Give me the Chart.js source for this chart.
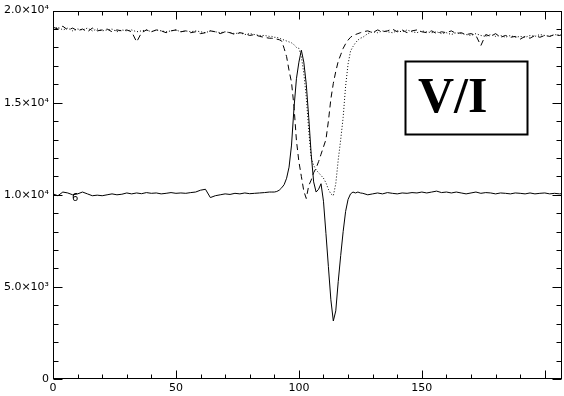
<!DOCTYPE html>
<html>
<head>
<meta charset="utf-8">
<script src="https://cdn.jsdelivr.net/npm/chart.js@4.4.1/dist/chart.umd.min.js"></script>
<style>
  body { margin: 0; background: #fff; }
  #wrap { width: 564px; height: 396px; }
</style>
</head>
<body>
<div id="wrap"><canvas id="myChart" width="564" height="396"></canvas></div>
<script>
'use strict';

// global variables
let xValues = [
  0, 2, 4, 6, 8, 10, 12, 14, 16, 18, 20, 22, 24, 26, 28, 30, 32, 34, 36, 38, 40, 42, 44,
  46, 48, 50, 52, 54, 56, 58, 60, 62, 64, 66, 68, 70, 72, 74, 76, 78, 80, 82, 84, 86, 88,
  89, 90, 91, 92, 93, 94, 95, 96, 97, 98, 99, 100, 101, 102, 103, 104, 105, 106, 107,
  108, 109, 110, 111, 112, 113, 114, 115, 116, 117, 118, 119, 120, 121, 122, 123, 124,
  125, 126,
  128, 130, 132, 134, 136, 138, 140, 142, 144, 146, 148, 150, 152, 154, 156, 158, 160,
  162, 164, 166, 168, 170, 172, 174, 176, 178, 180, 182, 184, 186, 188, 190, 192, 194,
  196, 198, 200, 202, 204, 206, 207
];

// V/I (solid)
let solidValues = [
  10050, 9950, 10150, 10100, 10000, 10050, 10150, 10050, 9950, 9980, 9950, 10000, 10050,
  10000, 10030, 10100, 10050, 10100, 10060, 10120, 10080, 10100, 10050, 10080, 10120,
  10080, 10100, 10080, 10120, 10150, 10250, 10300, 9850, 9950, 10000, 10050, 10020,
  10080, 10050, 10100, 10060, 10080, 10100, 10120, 10150,
  10150, 10150, 10180, 10250, 10380, 10550, 10900, 11500, 12700, 14700, 16300, 17200,
  17850, 17200, 16000, 14200, 12200, 10700, 10150, 10300, 10600, 9650, 7900, 6100, 4300,
  3150, 3700, 5300, 6700, 8000, 9100, 9750, 10050, 10150, 10100, 10150, 10100, 10080,
  10000, 10050, 10100, 10050, 10120, 10080, 10050, 10100, 10080, 10120, 10100, 10150,
  10100, 10150, 10200, 10120, 10150, 10100, 10150, 10100, 10050, 10100, 10150, 10080,
  10120, 10100, 10050, 10100, 10080, 10050, 10100, 10080, 10050, 10100, 10050, 10080,
  10100, 10050, 10080, 10050, 10060
];

// first intensity profile (dashed)
let dashedValues = [
  19100, 19000, 19150, 18950, 19050, 18900, 19000, 18850, 19050, 18900, 18950, 19000,
  18850, 18950, 18900, 18950, 18850, 18300, 18800, 18950, 18850, 18950, 18900, 18800,
  18900, 18950, 18850, 18900, 18800, 18850, 18750, 18800, 18900, 18850, 18750, 18850,
  18800, 18700, 18800, 18750, 18650, 18700, 18600, 18550, 18500,
  18500, 18480, 18450, 18420, 18350, 17950, 17500, 16750, 16100, 14800, 12950, 11800,
  11000, 10200, 9800, 10500, 10800, 11200, 11450, 11800, 12200, 12600, 13000, 14000,
  15200, 16050, 16700, 17250, 17600, 17950, 18200, 18400, 18550, 18650, 18700, 18750,
  18800, 18850,
  18900, 18800, 18950, 18850, 18900, 19000, 18850, 18950, 18800, 18900, 18950, 18850,
  18800, 18900, 18750, 18850, 18800, 18900, 18750, 18800, 18700, 18750, 18650, 18100,
  18700, 18600, 18750, 18550, 18650, 18550, 18600, 18450, 18600, 18500, 18650, 18550,
  18650, 18600, 18700, 18650, 18700
];

// second intensity profile (dotted)
let dottedValues = [
  19000, 19100, 18950, 19050, 18900, 19000, 18950, 19050, 18900, 19000, 18900, 18950,
  19000, 18850, 18950, 18900, 18950, 18850, 18900, 18950, 18850, 18950, 18900, 18850,
  18900, 18950, 18850, 18900, 18850, 18900, 18850, 18800, 18900, 18850, 18800, 18850,
  18800, 18750, 18800, 18700, 18750, 18700, 18650, 18650, 18600,
  18600, 18550, 18550, 18500, 18450, 18400, 18350, 18300, 18250, 18150, 18000, 17950,
  17500, 16600, 15300, 13500, 12000, 11600, 11350, 11200, 11050, 10900, 10650, 10300,
  10050, 9950, 10600, 11900, 13000, 14200, 15900, 17100, 17800, 18050, 18250, 18400,
  18500, 18550,
  18750, 18850, 18800, 18900, 18850, 18800, 18900, 18850, 18950, 18850, 18800, 18900,
  18850, 18800, 18850, 18750, 18800, 18700, 18800, 18750, 18700, 18650, 18750, 18650,
  18600, 18700, 18600, 18650, 18550, 18650, 18550, 18600, 18550, 18650, 18600, 18700,
  18650, 18600, 18700, 18650, 18650
];

// axis ticks
let xTickValues = [0, 50, 100, 150];
let xTickLabels = ['0', '50', '100', '150'];
let yTickValues = [0, 5000, 10000, 15000, 20000];
let yTickLabels = ['0', '5.0×10³', '1.0×10⁴', '1.5×10⁴', '2.0×10⁴'];

const ctx = document.getElementById('myChart');
const labelFont = { family: 'DejaVu Sans, sans-serif', size: 11 };

// ** FUNCTIONS **

function makePoints(values){
  let pts = [];
  for (let i in values){
    pts.push({ x: xValues[i], y: values[i] });
  }
  return pts;
}

// IDL style frame: box plus inward ticks on all four sides
let framePlugin = {
  id: 'frame',
  afterDraw(chart){
    let c = chart.ctx;
    let a = chart.chartArea;
    let xs = chart.scales.x;
    let ys = chart.scales.y;
    let left = Math.round(a.left) + 0.5;
    let right = Math.round(a.right) - 0.5;
    let top = Math.round(a.top) + 0.5;
    let bottom = Math.round(a.bottom) - 0.5;

    c.save();
    c.strokeStyle = '#000';
    c.lineWidth = 1;
    c.strokeRect(left, top, right - left, bottom - top);

    c.beginPath();
    for (let v = 0; v <= 200; v += 10){
      let px = Math.round(xs.getPixelForValue(v)) + 0.5;
      let len = v % 50 === 0 ? 8 : 4;
      c.moveTo(px, bottom); c.lineTo(px, bottom - len);
      c.moveTo(px, top); c.lineTo(px, top + len);
    }
    for (let v = 0; v <= 20000; v += 1000){
      let py = Math.round(ys.getPixelForValue(v)) + 0.5;
      let len = v % 5000 === 0 ? 9 : 5;
      c.moveTo(left, py); c.lineTo(left + len, py);
      c.moveTo(right, py); c.lineTo(right - len, py);
    }
    c.stroke();

    // V/I label box
    let bx0 = Math.round(xs.getPixelForValue(143.2)) + 0.5;
    let bx1 = Math.round(xs.getPixelForValue(192.8)) + 0.5;
    let by0 = Math.round(ys.getPixelForValue(17250)) + 0.5;
    let by1 = Math.round(ys.getPixelForValue(13280)) + 0.5;
    c.lineWidth = 2;
    c.strokeRect(bx0, by0, bx1 - bx0, by1 - by0);
    c.fillStyle = '#000';
    c.font = 'bold 50px "Liberation Serif", "DejaVu Serif", serif';
    c.textAlign = 'left';
    c.textBaseline = 'alphabetic';
    c.fillText('V/I', xs.getPixelForValue(148.4), ys.getPixelForValue(14470));

    // small marker near the left end of the solid curve
    c.textAlign = 'center';
    c.textBaseline = 'middle';
    c.font = '10px "DejaVu Sans", sans-serif';
    c.fillText('6', xs.getPixelForValue(9), ys.getPixelForValue(9780));
    c.restore();
  }
};

function renderChart(){
  let chartObj = {
    type: 'line',
    data: {
      datasets: [
        {
          label: 'V/I',
          data: makePoints(solidValues),
          borderColor: '#000',
          borderWidth: 1,
          pointRadius: 0
        },
        {
          label: 'I1',
          data: makePoints(dashedValues),
          borderColor: '#000',
          borderWidth: 1,
          borderDash: [6, 4],
          pointRadius: 0
        },
        {
          label: 'I2',
          data: makePoints(dottedValues),
          borderColor: '#000',
          borderWidth: 1,
          borderDash: [1, 2],
          pointRadius: 0
        }
      ]
    },
    options: {
      responsive: false,
      animation: false,
      layout: { padding: { top: 9, right: 2, left: 0, bottom: 0 } },
      plugins: {
        legend: { display: false },
        tooltip: { enabled: false }
      },
      scales: {
        x: {
          type: 'linear',
          min: 0,
          max: 207,
          grid: { display: false, drawTicks: false },
          border: { display: false },
          afterBuildTicks: s => { s.ticks = xTickValues.map(v => ({ value: v })); },
          afterFit: s => { s.height = 17; },
          ticks: {
            color: '#000',
            font: labelFont,
            padding: 3,
            maxRotation: 0,
            autoSkip: false,
            callback: v => xTickLabels[xTickValues.indexOf(v)]
          }
        },
        y: {
          type: 'linear',
          min: 0,
          max: 20000,
          grid: { display: false, drawTicks: false },
          border: { display: false },
          afterBuildTicks: s => { s.ticks = yTickValues.map(v => ({ value: v })); },
          afterFit: s => { s.width = 53; },
          ticks: {
            color: '#000',
            font: labelFont,
            padding: 4,
            autoSkip: false,
            callback: v => yTickLabels[yTickValues.indexOf(v)]
          }
        }
      }
    },
    plugins: [framePlugin]
  };
  new Chart(ctx, chartObj);
}

// executable code
renderChart();
</script>
</body>
</html>
